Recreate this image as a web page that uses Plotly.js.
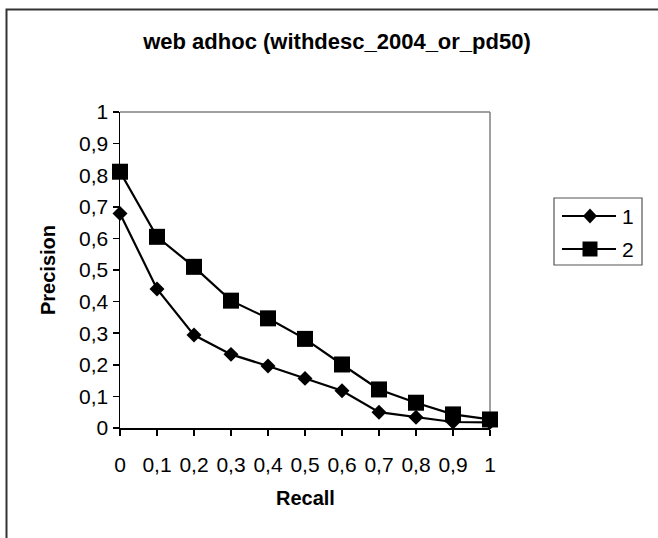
<!DOCTYPE html>
<html>
<head>
<meta charset="utf-8">
<script src="https://cdn.plot.ly/plotly-3.0.1.min.js"></script>
<style>html,body{margin:0;padding:0;background:#fff;}</style>
</head>
<body>
<div id="chart" style="width:658px;height:538px;"></div>
<script>
const recall = [0, 0.1, 0.2, 0.3, 0.4, 0.5, 0.6, 0.7, 0.8, 0.9, 1];
const series1 = [0.679, 0.44, 0.294, 0.233, 0.196, 0.157, 0.118, 0.05, 0.034, 0.019, 0.018];
const series2 = [0.811, 0.605, 0.51, 0.403, 0.347, 0.282, 0.201, 0.122, 0.08, 0.043, 0.027];
const seriesNames = ['1', '2'];
const xTickText = ['0', '0,1', '0,2', '0,3', '0,4', '0,5', '0,6', '0,7', '0,8', '0,9', '1'];
const yTickVals = [0, 0.1, 0.2, 0.3, 0.4, 0.5, 0.6, 0.7, 0.8, 0.9, 1];
const yTickText = ['0', '0,1', '0,2', '0,3', '0,4', '0,5', '0,6', '0,7', '0,8', '0,9', '1'];
const chartTitle = 'web adhoc (withdesc_2004_or_pd50)';
const xTitle = 'Recall';
const yTitle = 'Precision';

const FONT = 'Liberation Sans, Arial, sans-serif';

// plot area in pixels: x 120..490, y 112..428
const PL = 120, PR = 490, PT = 112, PB = 428;
const px2x = p => (p - PL) / (PR - PL);
const px2y = p => (PB - p) / (PB - PT);

const traces = [
  {x: recall, y: series1, name: seriesNames[0], type: 'scatter', mode: 'lines+markers',
   line: {color: '#000', width: 2.2}, marker: {symbol: 'diamond', size: 11.5, color: '#000'}, cliponaxis: false},
  {x: recall, y: series2, name: seriesNames[1], type: 'scatter', mode: 'lines+markers',
   line: {color: '#000', width: 2.2}, marker: {symbol: 'square', size: 16, color: '#000'}, cliponaxis: false}
];

const symbols = ['diamond', 'square'];
const shapes = [
  // outer frame (extends past right and bottom)
  {type: 'rect', xref: 'paper', yref: 'paper', x0: px2x(6.5), x1: px2x(700), y0: px2y(700), y1: px2y(9.5),
   line: {color: '#333', width: 2}, layer: 'below'},
  // plot area top and right border (gray)
  {type: 'line', xref: 'paper', yref: 'paper', x0: 0, x1: 1, y0: 1, y1: 1, line: {color: '#808080', width: 1.5}, layer: 'below'},
  {type: 'line', xref: 'paper', yref: 'paper', x0: 1, x1: 1, y0: 0, y1: 1, line: {color: '#808080', width: 1.5}, layer: 'below'},
  // legend box
  {type: 'rect', xref: 'paper', yref: 'paper', x0: px2x(554), x1: px2x(642), y0: px2y(265), y1: px2y(198),
   line: {color: '#555', width: 1.2}, fillcolor: '#fff'}
];
const annotations = [
  {text: xTitle, xref: 'paper', yref: 'paper', x: 0.5, y: px2y(498), xanchor: 'center', yanchor: 'middle',
   showarrow: false, font: {family: FONT, size: 20, color: '#000', weight: 'bold'}},
  {text: yTitle, xref: 'paper', yref: 'paper', x: px2x(48), y: 0.5, xanchor: 'center', yanchor: 'middle',
   textangle: -90, showarrow: false, font: {family: FONT, size: 20, color: '#000', weight: 'bold'}}
];
const rowY = [216, 249];
seriesNames.forEach((nm, i) => {
  const yy = px2y(rowY[i]);
  shapes.push({type: 'line', xref: 'paper', yref: 'paper', x0: px2x(562), x1: px2x(616), y0: yy, y1: yy,
    line: {color: '#000', width: 2}});
  if (symbols[i] === 'square') {
    shapes.push({type: 'rect', xref: 'paper', yref: 'paper', xsizemode: 'pixel', ysizemode: 'pixel',
      xanchor: px2x(590), yanchor: yy, x0: -7.5, x1: 7.5, y0: -7.5, y1: 7.5,
      line: {width: 0}, fillcolor: '#000'});
  } else {
    shapes.push({type: 'path', xref: 'paper', yref: 'paper', xsizemode: 'pixel', ysizemode: 'pixel',
      xanchor: px2x(590), yanchor: yy, path: 'M0,-7.5L7,0L0,7.5L-7,0Z',
      line: {width: 0}, fillcolor: '#000'});
  }
  annotations.push({text: nm, xref: 'paper', yref: 'paper', x: px2x(620), y: yy, xanchor: 'left', yanchor: 'middle',
    showarrow: false, font: {family: FONT, size: 21, color: '#000'}});
});

const axisCommon = {
  range: [0, 1], showgrid: false, zeroline: false, showline: true, linecolor: '#000', linewidth: 1.5,
  ticks: 'outside', ticklen: 6, tickwidth: 1.5, tickcolor: '#000',
  tickfont: {family: FONT, size: 21, color: '#000'}, fixedrange: true
};

const layout = {
  width: 658, height: 538,
  margin: {l: PL, r: 658 - PR, t: PT, b: 538 - PB, pad: 0},
  paper_bgcolor: '#fff', plot_bgcolor: '#fff',
  showlegend: false,
  title: {text: chartTitle, xref: 'container', yref: 'container', x: 337 / 658, y: 1 - 41 / 538,
    xanchor: 'center', yanchor: 'middle', font: {family: FONT, size: 22, color: '#000', weight: 'bold'}},
  xaxis: Object.assign({}, axisCommon, {tickvals: recall, ticktext: xTickText, ticklabelstandoff: 11}),
  yaxis: Object.assign({}, axisCommon, {tickvals: yTickVals, ticktext: yTickText, ticklabelstandoff: 0}),
  shapes: shapes,
  annotations: annotations
};

Plotly.newPlot('chart', traces, layout, {displayModeBar: false, staticPlot: true});
</script>
</body>
</html>
